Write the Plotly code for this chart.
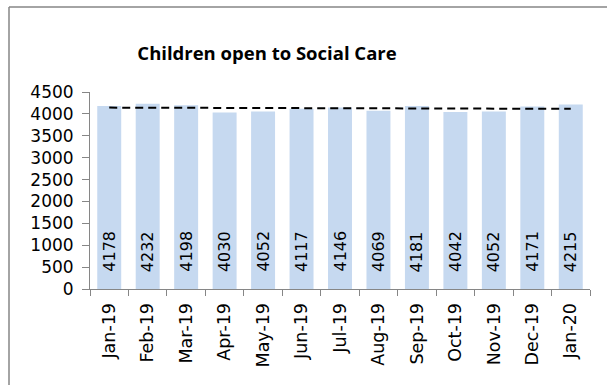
import numpy as np
import plotly.graph_objects as go

months = ["Jan-19", "Feb-19", "Mar-19", "Apr-19", "May-19", "Jun-19", "Jul-19",
          "Aug-19", "Sep-19", "Oct-19", "Nov-19", "Dec-19", "Jan-20"]
children = [4178, 4232, 4198, 4030, 4052, 4117, 4146, 4069, 4181, 4042, 4052, 4171, 4215]
y_ticks = [0, 500, 1000, 1500, 2000, 2500, 3000, 3500, 4000, 4500]

# Linear trend across the months
idx = np.arange(len(children))
slope, intercept = np.polyfit(idx, children, 1)
trend = slope * idx + intercept

BAR = "#C6D9F0"
AXIS = "#868686"
FONT = "DejaVu Sans"

fig = go.Figure()
fig.add_trace(go.Bar(x=months, y=children, marker=dict(color=BAR, line=dict(width=0)),
                     hoverinfo="x+y", showlegend=False))
fig.add_trace(go.Scatter(x=months, y=trend, mode="lines",
                         line=dict(color="black", width=2, dash="8px,5px"),
                         showlegend=False, hoverinfo="skip"))

# Value labels sitting near the base of each bar
for m, v in zip(months, children):
    fig.add_annotation(x=m, y=0, text=str(v), showarrow=False, textangle=-90,
                       yanchor="bottom", xanchor="center", yshift=15,
                       font=dict(family=FONT, size=16, color="black"))

fig.update_layout(
    width=607, height=385,
    margin=dict(l=90, r=17, t=92, b=96),
    paper_bgcolor="white", plot_bgcolor="white",
    bargap=0.377,
    title=dict(text="<b>Children open to Social Care</b>", x=267 / 607, xanchor="center",
               xref="container", y=1 - 54 / 385, yanchor="middle", yref="container",
               font=dict(family="Open Sans", size=18.5, color="black")),
    xaxis=dict(type="category", showline=True, linecolor=AXIS, linewidth=1,
               ticks="outside", tickson="boundaries", tickcolor=AXIS, ticklen=6,
               tickangle=-90, ticklabelstandoff=6,
               tickfont=dict(family=FONT, size=17.5, color="black"),
               showgrid=False, zeroline=False),
    yaxis=dict(range=[0, 4500], tickvals=y_ticks, showline=True, linecolor=AXIS,
               linewidth=1, ticks="outside", tickcolor=AXIS, ticklen=7,
               ticklabelstandoff=5,
               tickfont=dict(family=FONT, size=17, color="black"),
               showgrid=False, zeroline=False),
    shapes=[
        dict(type="line", xref="paper", yref="paper", x0=-81 / 500, x1=17 / 500 + 1,
             y0=1 + 85 / 197, y1=1 + 85 / 197, line=dict(color=AXIS, width=1.5)),
        dict(type="line", xref="paper", yref="paper", x0=-81 / 500, x1=-81 / 500,
             y0=1 + 85 / 197, y1=-96 / 197, line=dict(color=AXIS, width=1.5)),
    ],
)

fig.write_html("out.html")
